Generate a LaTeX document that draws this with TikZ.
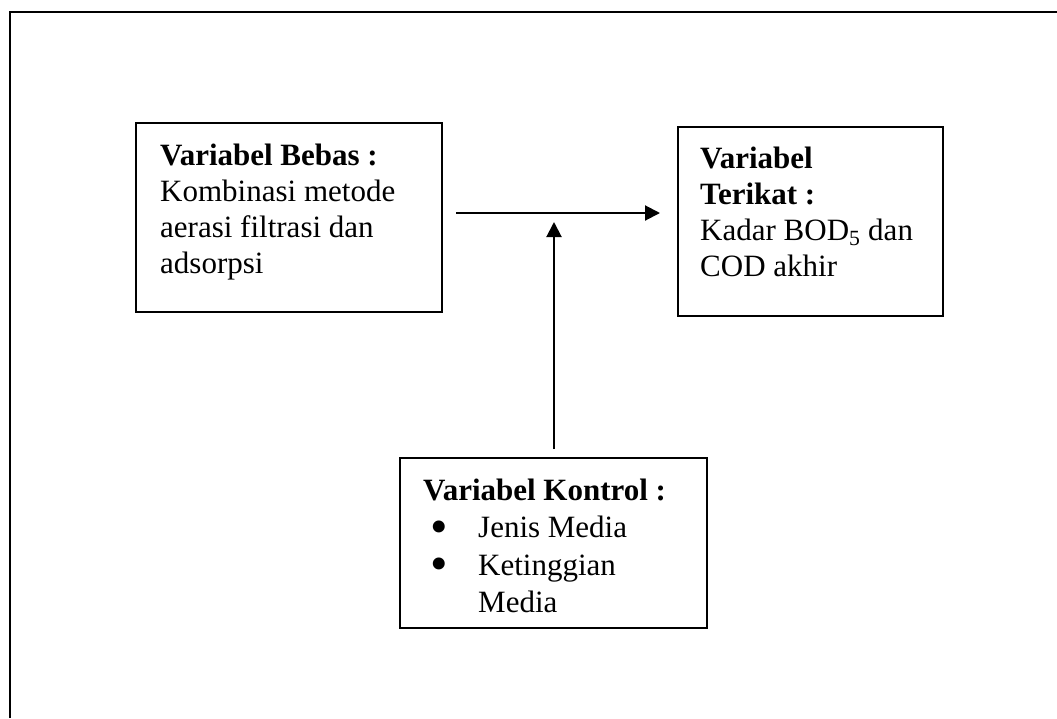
\documentclass[tikz,border=0pt]{standalone}
\usepackage{fontspec}
\setmainfont{Liberation Serif}
\usetikzlibrary{arrows.meta}
\newcommand{\bigbul}{\makebox[55pt][l]{\hspace{7pt}\raisebox{-5.5pt}[0pt][0pt]{\fontsize{50}{0}\selectfont •}}}
\begin{document}
\begin{tikzpicture}[x=1pt,y=-1pt,
  boxnode/.style={draw, line width=1.6pt, inner sep=0pt, rectangle},
  txt/.style={anchor=base west, inner sep=0pt, font=\fontsize{31}{36}\selectfont},
  conn/.style={line width=2pt, -{Triangle[length=15pt,width=15pt]}}]
\useasboundingbox (0,0) rectangle (1057,718);
% outer frame
\draw[line width=2pt] (10,718) -- (10,12) -- (1057,12);
% boxes
\node[boxnode, minimum width=306pt, minimum height=189pt] (bebas) at (289,217.5) {};
\node[boxnode, minimum width=265pt, minimum height=189pt] (terikat) at (810.5,221.5) {};
\node[boxnode, minimum width=307pt, minimum height=170pt] (kontrol) at (553.5,543) {};
% texts
\node[txt] (tbebas) at (160,165) {\begin{tabular}[t]{@{}l@{}}\textbf{Variabel Bebas :}\\Kombinasi metode\\aerasi filtrasi dan\\adsorpsi\end{tabular}};
\node[txt] (tterikat) at (700,168) {\begin{tabular}[t]{@{}l@{}}\textbf{Variabel}\\\textbf{Terikat :}\\Kadar BOD\textsubscript{5} dan\\COD akhir\end{tabular}};
\node[txt, font=\fontsize{31}{37.5}\selectfont] (tkontrol) at (423,500) {\begin{tabular}[t]{@{}l@{}}\textbf{Variabel Kontrol :}\\\bigbul Jenis Media\\\bigbul Ketinggian\\\hspace{55pt}Media\end{tabular}};
% connectors
\coordinate (hstart) at (456,213);
\coordinate (hend) at (660,213);
\coordinate (vstart) at (554,449);
\coordinate (vend) at (554,222);
\draw[conn] (hstart) -- (hend);
\draw[conn] (vstart) -- (vend);
\end{tikzpicture}
\end{document}
